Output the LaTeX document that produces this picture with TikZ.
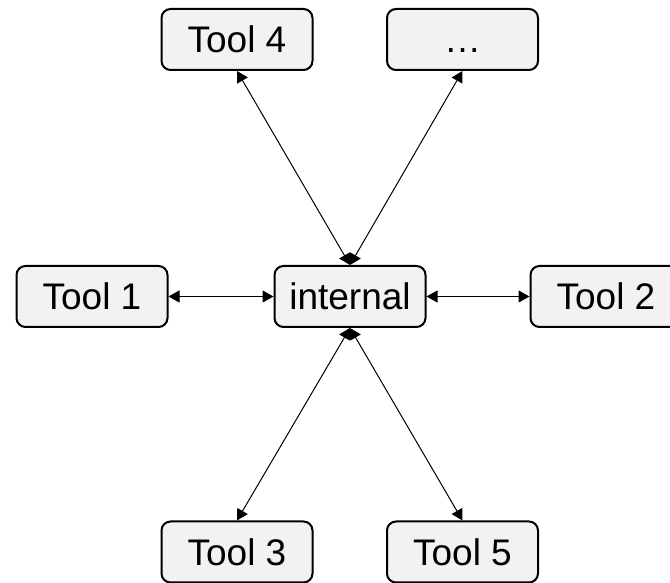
\documentclass[tikz,border=0pt]{standalone}
\usepackage{fontspec}
\setmainfont{Liberation Sans}
\usepackage{xcolor}
\usepackage{tikz}
\usetikzlibrary{arrows.meta}

\definecolor{boxfill}{HTML}{F2F2F2}

\begin{document}
\begin{tikzpicture}[x=0.5pt,y=0.5pt,
    toolbox/.style={draw, line width=1pt, fill=boxfill, rounded corners=4.5pt,
      minimum width=75.5pt, minimum height=30.5pt, inner sep=0pt,
      text height=13.5pt, text depth=0pt, font=\fontsize{18.5pt}{20pt}\selectfont},
    link/.style={line width=0.5pt, {Triangle[length=5.5pt,width=6pt]}-{Triangle[length=5.5pt,width=6pt]}}]
    \useasboundingbox (0,0) rectangle (670,583);
    % Boxes
    \node[toolbox] (int) at (350,286.5) {internal};
    \node[toolbox] (t1) at (92,286.5) {Tool 1};
    \node[toolbox] (t2) at (606,286.5) {Tool 2};
    \node[toolbox] (t4) at (237,543.5) {Tool 4};
    \node[toolbox] (more) at (462.5,543.5) {…};
    \node[toolbox] (t3) at (237,31) {Tool 3};
    \node[toolbox] (t5) at (462.5,31) {Tool 5};
    % Links
    \draw[link] (t1.east) -- (int.west);
    \draw[link] (int.east) -- (t2.west);
    \draw[link] (t4.south) -- (int.north);
    \draw[link] (more.south) -- (int.north);
    \draw[link] (int.south) -- (t3.north);
    \draw[link] (int.south) -- (t5.north);
  \end{tikzpicture}
\end{document}
